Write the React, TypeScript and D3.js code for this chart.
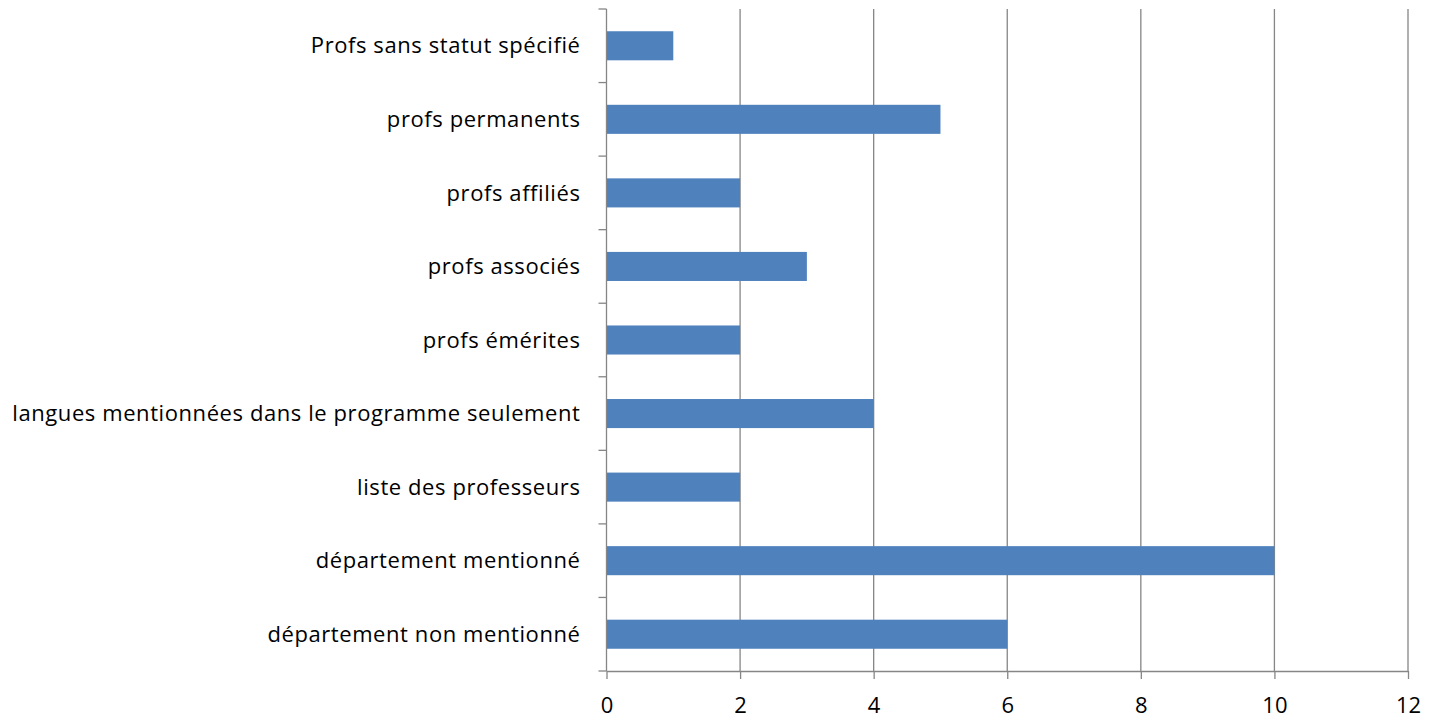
import { useEffect, useRef } from "react";
import * as d3 from "d3";

const WIDTH = 1431;
const HEIGHT = 718;
const MARGIN = { top: 9, right: 23, bottom: 47, left: 606.5 };

const categories = [
  "Profs sans statut spécifié",
  "profs permanents",
  "profs affiliés",
  "profs associés",
  "profs émérites",
  "langues mentionnées dans le programme seulement",
  "liste des professeurs",
  "département mentionné",
  "département non mentionné",
];
const values = [1, 5, 2, 3, 2, 4, 2, 10, 6];
const xTicks = [0, 2, 4, 6, 8, 10, 12];

const FONT = "'Open Sans', 'Noto Sans', sans-serif";
const FONT_SIZE = 22;
const LETTER_SPACING = 0.58;

const App = () => {
  const axesRef = useRef(null);
  const boundsWidth = WIDTH - MARGIN.left - MARGIN.right;
  const boundsHeight = HEIGHT - MARGIN.top - MARGIN.bottom;

  const xScale = d3.scaleLinear().domain([0, 12]).range([0, boundsWidth]);
  const yScale = d3
    .scaleBand()
    .domain(categories)
    .range([0, boundsHeight])
    .paddingInner(0.605)
    .paddingOuter(0.3025);

  useEffect(() => {
    const g = d3.select(axesRef.current);
    g.selectAll("*").remove();

    // vertical gridlines
    g.append("g")
      .selectAll("line")
      .data(xTicks.slice(1))
      .join("line")
      .attr("x1", (d) => xScale(d))
      .attr("x2", (d) => xScale(d))
      .attr("y1", 0)
      .attr("y2", boundsHeight)
      .attr("stroke", "#868686")
      .attr("stroke-width", 1.3);

    // bars
    g.append("g")
      .selectAll("rect")
      .data(categories)
      .join("rect")
      .attr("x", 0)
      .attr("y", (d) => yScale(d)!)
      .attr("width", (d, i) => xScale(values[i]))
      .attr("height", yScale.bandwidth())
      .attr("fill", "#4f81bd");

    // x axis
    const xAxis = g
      .append("g")
      .attr("transform", `translate(0,${boundsHeight})`)
      .call(d3.axisBottom(xScale).tickValues(xTicks).tickSize(8).tickPadding(18).tickSizeOuter(0));
    xAxis.select(".domain").attr("stroke", "#868686").attr("stroke-width", 1.3);
    xAxis.selectAll(".tick line").attr("stroke", "#868686").attr("stroke-width", 1.3);
    xAxis
      .selectAll(".tick text")
      .attr("font-family", FONT)
      .attr("font-size", FONT_SIZE)
      .attr("fill", "#000");

    // y axis: ticks at band boundaries
    const step = yScale.step();
    const boundaries = d3.range(categories.length + 1).map((i) => i * step);
    const yg = g.append("g");
    yg.append("line")
      .attr("x1", 0)
      .attr("x2", 0)
      .attr("y1", 0)
      .attr("y2", boundsHeight)
      .attr("stroke", "#868686")
      .attr("stroke-width", 1.3);
    yg.selectAll("line.tk")
      .data(boundaries)
      .join("line")
      .attr("class", "tk")
      .attr("x1", -8)
      .attr("x2", 0)
      .attr("y1", (d) => d)
      .attr("y2", (d) => d)
      .attr("stroke", "#868686")
      .attr("stroke-width", 1.3);
    yg.selectAll("text")
      .data(categories)
      .join("text")
      .attr("x", -26)
      .attr("y", (d) => yScale(d)! + yScale.bandwidth() / 2)
      .attr("dy", "0.35em")
      .attr("text-anchor", "end")
      .attr("font-family", FONT)
      .attr("font-size", FONT_SIZE)
      .attr("letter-spacing", LETTER_SPACING)
      .attr("fill", "#000")
      .text((d) => d);
  }, [xScale, yScale, boundsHeight]);

  return (
    <div style={{ position: "absolute", left: 0, top: 0 }}>
      <svg width={WIDTH} height={HEIGHT} style={{ display: "block", background: "white" }}>
        <g ref={axesRef} transform={`translate(${MARGIN.left},${MARGIN.top})`} />
      </svg>
    </div>
  );
};

export default App;
